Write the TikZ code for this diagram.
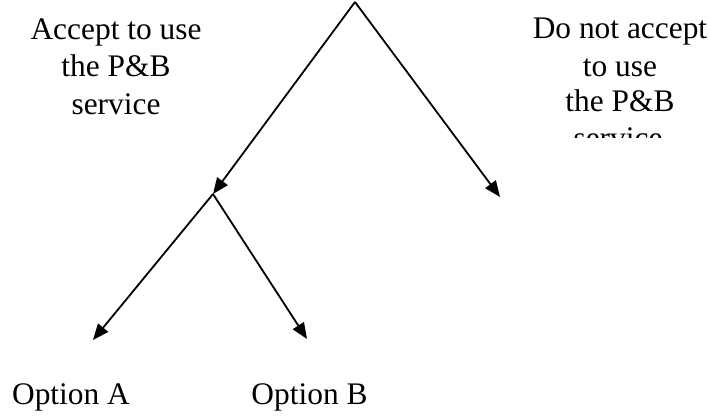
\documentclass[tikz,border=0pt]{standalone}
\usepackage{fontspec}
\setmainfont{Liberation Serif}
\usetikzlibrary{arrows.meta}
\begin{document}
\begin{tikzpicture}[x=1pt,y=-1pt,
  lbl/.style={font=\fontsize{31.4}{37}\selectfont, inner sep=0pt, anchor=base},
  arr/.style={line width=1.8pt, -{Triangle[length=16pt,width=13pt]}}]
\useasboundingbox (0,0) rectangle (710,419);
\coordinate (top) at (355,2);
\coordinate (mid) at (213,194);
\coordinate (no) at (500,197);
\coordinate (a) at (93,340);
\coordinate (b) at (307,339);
\draw[arr] (top) -- (mid);
\draw[arr] (top) -- (no);
\draw[arr] (mid) -- (a);
\draw[arr] (mid) -- (b);
\node[lbl] (acc1) at (116,40) {Accept to use};
\node[lbl] (acc2) at (116,77) {the P\&B};
\node[lbl] (acc3) at (116,115) {service};
\node[lbl] (no1) at (620,39) {Do not accept};
\node[lbl] (no2) at (620,77) {to use};
\node[lbl] (no3) at (620,112) {the P\&B};
\begin{scope}
\clip (480,0) rectangle (710,138);
\node[lbl] (no4) at (618,149) {service};
\end{scope}
\node[lbl] (optA) at (71,405) {Option A};
\node[lbl] (optB) at (309.5,405) {Option B};
\end{tikzpicture}
\end{document}
